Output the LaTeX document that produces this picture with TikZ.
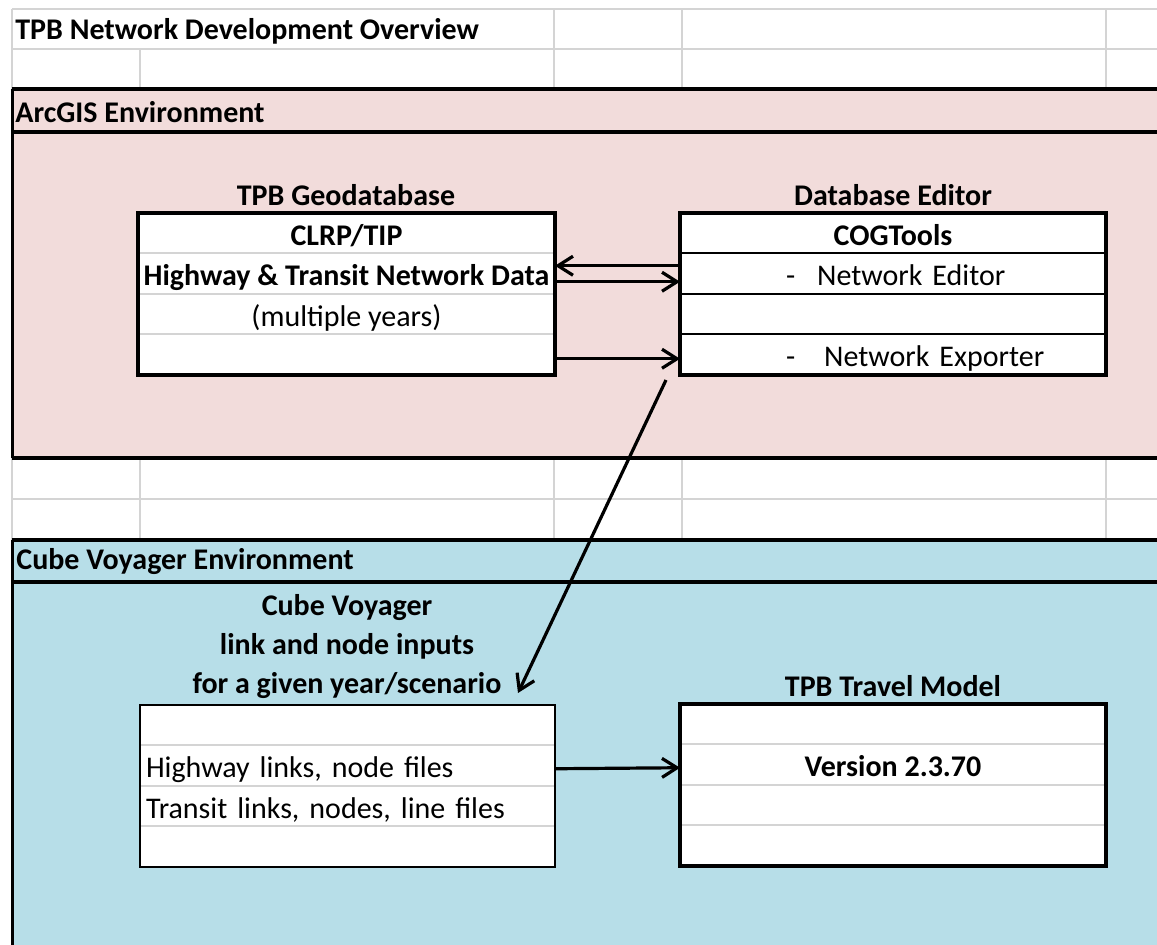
\documentclass[tikz,border=0pt]{standalone}
\usepackage{fontspec}
\setmainfont{Carlito}
\usepackage{xcolor}
\usetikzlibrary{arrows.meta, positioning, calc}
\definecolor{FigText}{HTML}{000000}
\definecolor{FigPink}{HTML}{F2DCDB}
\definecolor{FigAqua}{HTML}{B7DEE8}
\definecolor{FigGrid}{HTML}{D4D4D4}
\newcommand{\cellfont}{\fontsize{15pt}{18pt}\selectfont}

\begin{document}
\begin{tikzpicture}[
x=0.5pt, y=-0.5pt,
font=\cellfont,
>={Straight Barb[length=7.5pt,width=9.5pt]},
gridline/.style={draw=FigGrid, line width=1pt},
bandline/.style={draw=black, line width=2pt},
cellrow/.style={
fill=white,
inner sep=0pt,
outer sep=0pt,
minimum height=20.25pt,
text height=14pt,
text depth=2pt,
align=center
},
cellleft/.style={
cellrow,
inner xsep=3pt,
text width=201.5pt,
align=left
},
boldcell/.style={font=\cellfont\bfseries},
boxframe/.style={draw=black, line width=2pt},
flow/.style={->, line width=1.6pt},
every node/.style={text=FigText}
]
\useasboundingbox (0,0) rectangle (1157,945);

% Band fills
\fill[FigPink] (12,89.5) rectangle (1157,458);
\fill[FigAqua] (12,540) rectangle (1157,945);

% Sheet grid - top rows and gap rows
\draw[gridline] (12,9) -- (1157,9) (12,49) -- (1157,49) (12,499) -- (1157,499);
\foreach \gx in {12,554,682,1106} \draw[gridline] (\gx,9) -- (\gx,89.5);
\draw[gridline] (140,49) -- (140,89.5);
\foreach \gx in {12,140,554,682,1106} \draw[gridline] (\gx,458) -- (\gx,540);

% Band borders
\foreach \gy in {89.5,132,458,540,582} \draw[bandline] (12,\gy) -- (1157,\gy);
\draw[black, line width=1.5pt] (12,89.5) -- (12,458) (12,540) -- (12,945);

% Band titles
\node[boldcell, anchor=west, inner xsep=0pt] (sheettitle) at (15,31) {TPB Network Development Overview};
\node[boldcell, anchor=west, inner xsep=0pt] (arcband) at (15,112) {ArcGIS Environment};
\node[boldcell, anchor=west, inner xsep=0pt] (cubeband) at (16,562) {Cube Voyager Environment};

% Geodatabase table
\node[boldcell] (geohead) at (346,195) {TPB Geodatabase};
\node[cellrow, boldcell, minimum width=208.5pt, anchor=north west] (geo1) at (138,213) {CLRP/TIP};
\node[cellrow, boldcell, minimum width=208.5pt, below=0pt of geo1] (geo2) {Highway \& Transit Network Data};
\node[cellrow, minimum width=208.5pt, below=0pt of geo2] (geo3) {(multiple years)};
\node[cellrow, minimum width=208.5pt, below=0pt of geo3] (geo4) {};
\foreach \r in {1,2,3} \draw[gridline] (geo\r.south west) -- (geo\r.south east);
\draw[boxframe] (geo1.north west) rectangle (geo4.south east);

% Database editor table
\node[boldcell] (coghead) at (893,195) {Database Editor};
\node[cellrow, boldcell, minimum width=213pt, anchor=north west] (cog1) at (680,213) {COGTools};
\node[cellrow, text width=213pt, align=left, below=0pt of cog1] (cog2) {\hspace*{53pt}-\hspace{11pt}Network Editor};
\node[cellrow, minimum width=213pt, below=0pt of cog2] (cog3) {};
\node[cellrow, text width=213pt, align=left, below=0pt of cog3] (cog4) {\hspace*{53pt}-\hspace{14.5pt}Network Exporter};
\foreach \r in {1,2,3} \draw[black, line width=1pt] (cog\r.south west) -- (cog\r.south east);
\draw[boxframe] (cog1.north west) rectangle (cog4.south east);

% Cube Voyager inputs table
\node[boldcell, align=center] (cvhead) at (347,647) {Cube Voyager\\[1.5pt] link and node inputs\\[1.5pt] for a given year/scenario};
\node[cellleft, anchor=north west] (cv1) at (140,705) {};
\node[cellleft, below=0pt of cv1] (cv2) {Highway links, node files};
\node[cellleft, below=0pt of cv2] (cv3) {Transit links, nodes, line files};
\node[cellleft, below=0pt of cv3] (cv4) {};
\foreach \r in {1,2,3} \draw[gridline] (cv\r.south west) -- (cv\r.south east);
\draw[black, line width=1.2pt] (cv1.north west) rectangle (cv4.south east);

% Travel model table
\node[boldcell] (tmhead) at (893,686) {TPB Travel Model};
\node[cellrow, minimum width=213pt, anchor=north west] (tm1) at (680,704) {};
\node[cellrow, boldcell, minimum width=213pt, below=0pt of tm1] (tm2) {Version 2.3.70};
\node[cellrow, minimum width=213pt, below=0pt of tm2] (tm3) {};
\node[cellrow, minimum width=213pt, below=0pt of tm3] (tm4) {};
\foreach \r in {1,2,3} \draw[gridline] (tm\r.south west) -- (tm\r.south east);
\draw[boxframe] (tm1.north west) rectangle (tm4.south east);

% Flows
\coordinate (expout) at (666,380);
\coordinate (cvin) at (518,693);
\draw[flow] ([yshift=4pt]cog2.west) -- ([yshift=4pt]geo2.east);
\draw[flow] ([yshift=-4pt]geo2.east) -- ([yshift=-4pt]cog2.west);
\draw[flow] ([yshift=-2pt]geo4.east) -- ([yshift=-2pt]cog4.west);
\draw[flow] (expout) -- (cvin);
\draw[flow] ([yshift=-1.5pt]cv2.east) -- ([yshift=-1.5pt]tm2.west);

\end{tikzpicture}
\end{document}
